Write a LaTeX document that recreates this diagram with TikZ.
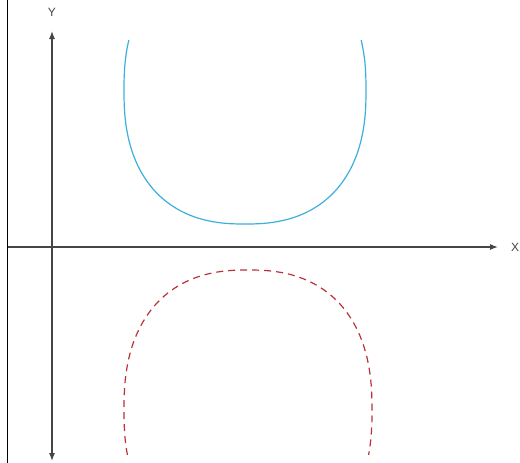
\documentclass[tikz,border=0pt]{standalone}
\usepackage{fontspec}
\setmainfont{Liberation Sans}
\usetikzlibrary{arrows.meta}
\definecolor{axisgray}{RGB}{70,70,70}
\definecolor{curveblue}{RGB}{60,175,220}
\definecolor{curvered}{RGB}{185,50,55}
\begin{document}
\begin{tikzpicture}[x=1pt,y=-1pt,
  axisline/.style={draw=axisgray,line width=1.1pt},
  bluecurve/.style={draw=curveblue,line width=1.2pt},
  redcurve/.style={draw=curvered,line width=1.2pt,dash pattern=on 7pt off 5pt},
  axislabel/.style={text=axisgray,font=\fontsize{12}{14}\selectfont,inner sep=0pt}]
\useasboundingbox (0,0) rectangle (520,463);
% left frame line
\draw[black,line width=1.3pt] (7.5,0) -- (7.5,463);
% axes
\coordinate (xs) at (8,247);
\coordinate (xe) at (498,247);
\coordinate (ys) at (52,461);
\coordinate (ye) at (52,31);
\draw[axisline,-{Latex[length=8pt,width=6pt]}] (xs) -- (xe);
\draw[axisline,{Latex[length=8pt,width=6pt]}-{Latex[length=8pt,width=6pt]}] (ys) -- (ye);
\node[axislabel] (xl) at (515,247) {X};
\node[axislabel] (yl) at (52,12) {Y};
% blue curve
\draw[bluecurve] plot[domain=162.2:377.8,samples=120,smooth,variable=\t]
  ({245+121*ifthenelse(cos(\t)<0,-1,1)*pow(abs(cos(\t))+1e-6,0.833)},
   {90-134*ifthenelse(sin(\t)<0,-1,1)*pow(abs(sin(\t))+1e-6,0.833)});
% red dashed curve
\draw[redcurve] plot[domain=165.2:374.8,samples=120,smooth,variable=\t]
  ({248+124*ifthenelse(cos(\t)<0,-1,1)*pow(abs(cos(\t))+1e-6,0.833)},
   {410+140*ifthenelse(sin(\t)<0,-1,1)*pow(abs(sin(\t))+1e-6,0.833)});
\end{tikzpicture}
\end{document}
